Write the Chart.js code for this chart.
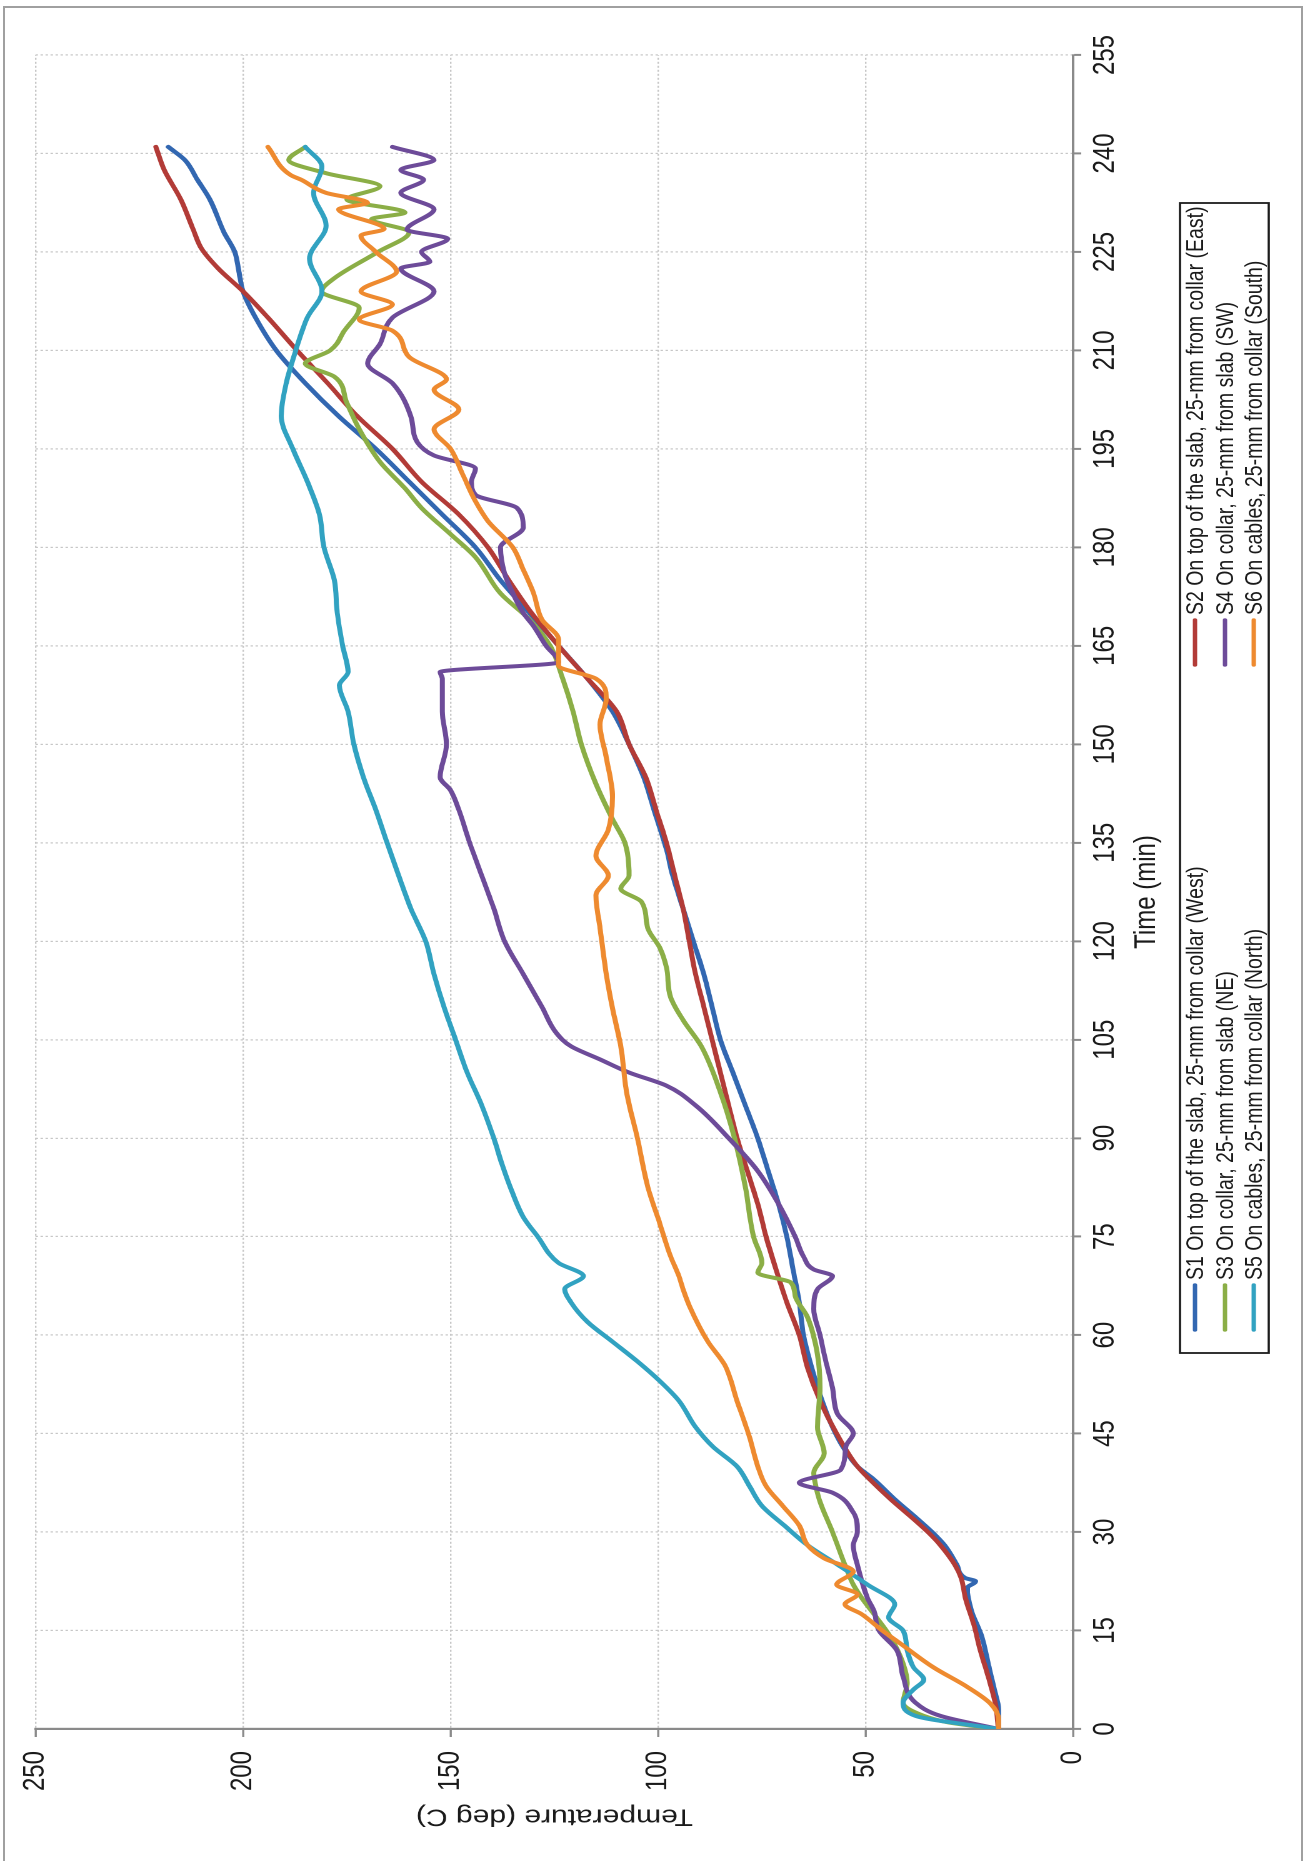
<!DOCTYPE html>
<html>
<head>
<meta charset="utf-8">
<title>Temperature vs time</title>
<script src="https://cdn.jsdelivr.net/npm/chart.js@4.4.1/dist/chart.umd.min.js"></script>
<style>
  html, body { margin: 0; padding: 0; background: #fff; width: 1306px; height: 1861px; overflow: hidden; }
  #frame { position: absolute; left: 3px; top: 6px; width: 1300px; height: 1900px;
           border: 2px solid #a0a0a0; border-bottom: none; box-sizing: border-box; }
  /* the chart is laid out landscape, then turned a quarter turn counter-clockwise */
  #stage { position: absolute; left: 0; top: 0; width: 1861px; height: 1045px;
           transform-origin: 0 0; transform: translateY(1861px) rotate(-90deg) scale(1, 1.25); }
</style>
</head>
<body>
<div id="frame"></div>
<div id="stage"><canvas id="chart" width="1861" height="1045"></canvas></div>
<script>
// Sensor readings: time (min) and temperature (deg C)
const s1Time = [0, 3, 6, 10, 14, 18, 20, 21.5, 22.5, 23, 25, 28, 30, 32, 35, 38, 40, 43, 46, 50, 55, 60, 65, 70, 75, 80, 85, 90, 95, 100, 105, 110, 115, 120, 125, 130, 134, 140, 145, 150, 155, 160, 165, 170, 175, 180, 185, 190, 195, 200, 205, 210, 215, 219, 222, 225, 228, 233, 236, 239, 241];
const s1Temp = [18, 18, 19, 20.5, 22, 24.5, 25.3, 25.5, 23.5, 26, 28, 31, 34, 37.5, 43, 48, 52, 55.5, 58, 60.5, 63, 65, 66, 67.5, 69, 71, 73.5, 76, 79, 82, 85, 87, 89, 91.5, 94, 96.5, 98, 101, 103.5, 107, 111, 117, 124, 131, 138, 144, 152, 160, 168, 177, 185, 192, 197, 200, 201, 202, 204.6, 208, 211, 214, 218];

const s2Time = [0, 4, 8, 12, 16, 20, 23, 25, 28, 30, 32, 35, 38, 40, 45, 50, 55, 60, 65, 70, 75, 80, 85, 90, 95, 100, 105, 110, 115, 120, 125, 130, 135, 140, 145, 150, 155, 160, 165, 170, 175, 180, 185, 190, 195, 200, 205, 210, 215, 219, 222.5, 225.5, 228.4, 233, 237.5, 241];
const s2Temp = [18, 18.8, 20.5, 22.4, 24, 26, 27, 28.5, 32, 35, 38.5, 44, 49, 52, 57, 61, 64, 66, 69, 71.6, 74, 76, 78.5, 81, 83, 85, 87, 89, 91, 92.5, 94, 96, 98, 100.5, 103, 107, 110, 117, 124, 130.5, 136, 141, 148, 157, 164, 172.5, 179.6, 187, 194, 200, 206, 210, 212, 215, 219, 221];

const s3Time = [0, 1, 2, 4, 7, 10, 14, 17.5, 20, 22, 25, 30, 34.6, 37, 39, 42, 46, 52, 57, 62.7, 66, 68, 69.5, 71, 75, 82.6, 90, 97, 104, 108, 111.5, 116, 119, 122, 126, 128, 130, 135, 138.6, 144, 150, 155, 160, 165, 169, 173, 178.5, 182, 186, 189, 193, 198, 202, 206, 208, 210, 213, 216.5, 219, 221, 225, 228, 230, 231, 233, 235, 237, 239, 241];
const s3Temp = [18, 30, 36, 41, 40, 41, 44, 48, 51, 53, 55, 58, 61, 62, 62.5, 60, 61.6, 61, 61.6, 64, 67, 68, 76, 75, 77, 79, 81.6, 85, 89.6, 94, 97, 98, 99.6, 102.5, 104, 109, 107, 108, 111, 115, 118.5, 120.5, 123, 126, 131, 138, 144, 150, 157, 161, 167, 172, 175, 178, 185, 179, 175.6, 172, 181, 178, 167.5, 160, 169, 161, 175, 167, 180, 189, 185];

const s4Time = [0, 2, 4, 8, 12, 15, 18, 20, 25, 28, 30, 33, 36, 37.5, 39.5, 43, 45, 48, 52, 56, 60, 64, 67, 69, 70, 72, 75, 80, 85, 90, 95, 98, 100, 102, 104, 106, 110, 115, 120, 125, 130, 135, 140, 143, 145, 150, 155, 160, 161, 162.5, 165, 168, 170, 173, 176, 180, 183, 186, 188, 190, 192, 194, 196, 200, 205, 208, 211, 215, 219, 222.5, 223.5, 225, 227, 228.4, 231.5, 234, 236, 237.5, 239, 241];
const s4Temp = [18, 32, 38, 41, 42.5, 46.8, 48, 49.6, 52, 53, 52, 53, 58, 66, 56, 54.8, 53, 56.8, 58, 59.6, 61, 62.5, 61.6, 58, 62.5, 65, 67, 71, 76, 83, 91, 98, 107, 114, 121, 124.5, 128, 132.5, 137, 139.6, 142.5, 145.4, 148, 150, 152.5, 151, 152, 152, 152.5, 124, 127, 130, 132.5, 135, 137, 138, 132.5, 134, 144, 145, 144, 154, 158, 159.6, 164, 170, 167, 164, 154, 162, 155, 157, 150.7, 160.5, 154, 162, 156.5, 162, 154, 164];

const s5Time = [0, 2, 4, 6, 7.5, 9.4, 12, 15, 17, 19, 22, 25, 28, 31, 34, 37, 40, 43, 46, 50, 53, 56, 59, 62, 65, 67, 69, 71, 75, 78, 82, 86, 90, 95, 100, 105, 110, 115, 120, 125, 130, 135, 140, 145, 150, 155, 159, 161, 165, 170, 175, 180, 185, 190, 195, 200, 205, 210, 215, 219, 224, 229, 234, 238, 241];
const s5Temp = [18, 38, 41, 38.5, 36, 38.5, 40, 41, 44.5, 43, 49.6, 56.7, 64, 69.6, 75, 78, 81, 86.8, 91, 95, 99.6, 105, 111, 117, 121, 122.5, 118, 124, 129, 132.5, 135.3, 137.6, 139.6, 142.5, 146, 148.8, 151.6, 154, 156, 159.6, 162.5, 165.3, 168, 171, 173.3, 174.7, 176.8, 174.7, 176, 177.3, 178, 180.5, 181.6, 184.5, 188, 190.8, 189.6, 187.3, 184.5, 181, 184, 180, 183, 181, 185];

const s6Time = [0, 1.5, 3.9, 6.4, 9.4, 13, 15, 17.5, 19, 20.5, 22, 24, 26, 28, 31, 34, 37, 40, 44.5, 50, 55.5, 59, 64.5, 67, 69, 72, 77, 82.6, 90, 97, 104, 109.8, 115, 122, 127, 130, 133, 137, 142, 148, 153, 157, 160, 162, 166, 169, 173, 176.6, 180, 184, 187, 191, 195, 198, 201, 204, 205.6, 209, 213, 214.7, 217, 219, 222, 225, 227.5, 228.5, 231.5, 232.5, 234, 236, 236.7, 241];
const s6Temp = [18, 18, 20, 25.5, 33.7, 41.6, 46, 51, 55, 52, 57, 53, 60, 64, 66, 70, 74, 76, 78, 81, 84, 88, 92.5, 94, 95, 97, 99.6, 102.5, 105, 107.6, 109, 111, 112.5, 114, 115, 112, 115, 112, 111, 112.5, 114, 112.5, 115, 124, 124, 128, 130, 132.5, 135, 141, 144, 147, 150, 154, 148, 154, 151, 160, 164, 172, 164, 171.6, 163, 168, 171.6, 166, 177, 170, 180, 186, 188.5, 194];

const seriesLabels = [
  'S1 On top of the slab, 25-mm from collar (West)',
  'S2 On top of the slab, 25-mm from collar (East)',
  'S3 On collar, 25-mm from slab (NE)',
  'S4 On collar, 25-mm from slab (SW)',
  'S5 On cables, 25-mm from collar (North)',
  'S6 On cables, 25-mm from collar (South)'
];
const seriesColors = ['#3267b1', '#b23b37', '#8bae46', '#6d4b99', '#31a2c1', '#ee8a2f'];

const timeTicks = { min: 0, max: 255, step: 15 };
const tempTicks = { min: 0, max: 250, step: 50 };

const pairs = (xs, ys) => xs.map((x, i) => ({ x: x, y: ys[i] }));
const series = [
  pairs(s1Time, s1Temp), pairs(s2Time, s2Temp), pairs(s3Time, s3Temp),
  pairs(s4Time, s4Temp), pairs(s5Time, s5Temp), pairs(s6Time, s6Temp)
];

const FONT = '"Liberation Sans", Arial, Helvetica, sans-serif';
const INK = '#1a1a1a';
const AXIS = '#8a8a8a';
const GRID = '#c6c6c6';

// Boxed two-column legend under the time axis
const boxedLegend = {
  id: 'boxedLegend',
  afterDraw(chart) {
    const ctx = chart.ctx;
    const box = { x: 508, y: 944, w: 1150, h: 71 };
    const rows = [956, 980, 1003];
    const cols = [531, 1196];
    ctx.save();
    ctx.strokeStyle = '#1c1c1c';
    ctx.lineWidth = 1.8;
    ctx.strokeRect(box.x, box.y, box.w, box.h);
    ctx.font = '19.5px ' + FONT;
    ctx.textBaseline = 'middle';
    ctx.textAlign = 'left';
    chart.data.datasets.forEach((ds, i) => {
      const x = cols[i % 2];
      const y = rows[Math.floor(i / 2)];
      ctx.strokeStyle = ds.borderColor;
      ctx.lineWidth = 3.4;
      ctx.lineCap = 'round';
      ctx.beginPath();
      ctx.moveTo(x, y);
      ctx.lineTo(x + 45, y);
      ctx.stroke();
      ctx.fillStyle = INK;
      ctx.fillText(ds.label, x + 50, y + 1);
    });
    ctx.restore();
  }
};

new Chart(document.getElementById('chart'), {
  type: 'line',
  data: {
    datasets: series.map((pts, i) => ({
      label: seriesLabels[i],
      data: pts,
      borderColor: seriesColors[i],
      backgroundColor: seriesColors[i],
      borderWidth: 4,
      pointRadius: 0,
      fill: false,
      cubicInterpolationMode: 'monotone',
      borderCapStyle: 'round',
      borderJoinStyle: 'round',
      order: 6 - i
    }))
  },
  options: {
    responsive: false,
    animation: false,
    devicePixelRatio: 2,
    layout: { padding: { left: 0, right: 55, top: 27.6, bottom: 0 } },
    plugins: { legend: { display: false }, tooltip: { enabled: false } },
    scales: {
      x: {
        type: 'linear',
        min: timeTicks.min, max: timeTicks.max,
        ticks: { stepSize: timeTicks.step, autoSkip: false, maxRotation: 0, minRotation: 0,
                 color: INK, padding: 5, font: { family: FONT, size: 24 } },
        grid: { color: GRID, lineWidth: 1.2, drawTicks: true, tickLength: 6.4,
                tickColor: AXIS, tickWidth: 2, tickBorderDash: [] },
        border: { color: AXIS, width: 2, dash: [2, 2] },
        title: { display: true, text: 'Time (min)', color: INK,
                 font: { family: FONT, size: 24 }, padding: { top: 0, bottom: 113 } },
        afterFit(scale) { scale.height = 186.4; }
      },
      y: {
        type: 'linear',
        min: tempTicks.min, max: tempTicks.max,
        ticks: { stepSize: tempTicks.step, color: INK, padding: 14,
                 font: { family: FONT, size: 24 } },
        grid: { color: GRID, lineWidth: 1.2, drawTicks: true, tickLength: 8,
                tickColor: AXIS, tickWidth: 1.7, tickBorderDash: [] },
        border: { color: AXIS, width: 2.2, dash: [2, 2] },
        title: { display: true, text: 'Temperature (deg C)', color: INK,
                 font: { family: FONT, size: 24 }, padding: { top: 30.6, bottom: 0 } },
        afterFit(scale) { scale.width = 132; }
      }
    }
  },
  plugins: [boxedLegend]
});
</script>
</body>
</html>
